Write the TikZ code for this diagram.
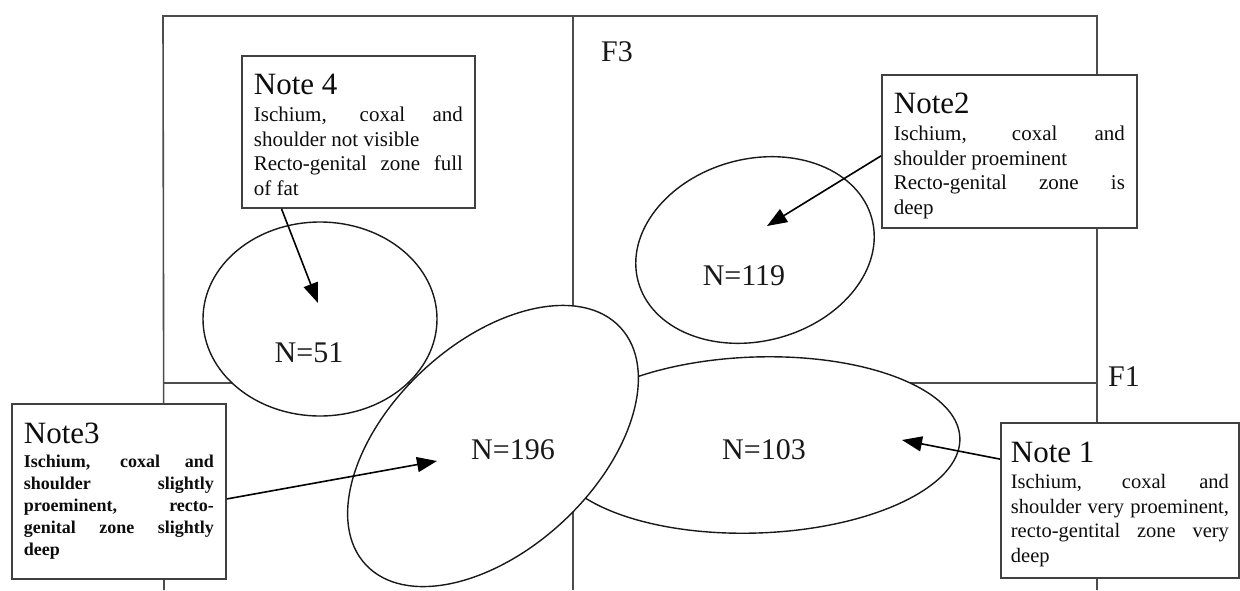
\documentclass[tikz,border=0pt]{standalone}
\usepackage{fontspec}
\setmainfont{Liberation Serif}
\usetikzlibrary{arrows.meta,shapes.geometric}

\tikzset{
  cluster/.style={ellipse, draw=black!90, line width=1.4pt, fill=white, inner sep=0pt},
  count/.style={font=\fontsize{30}{36}\selectfont, text=black!90},
  notebox/.style={draw=black!75, line width=1.8pt, fill=white, anchor=north west,
    inner xsep=12pt, inner ysep=0pt, align=justify, text=black!95,
    font=\fontsize{21}{24.5}\selectfont},
  axisline/.style={draw=black!70, line width=1.6pt},
  pointer/.style={-{Triangle[length=20pt,width=15pt]}, line width=1.6pt},
}
\newcommand{\notehead}[1]{{\fontsize{31}{31}\selectfont\rule{0pt}{39pt}#1\par}\vspace{2.5pt}}
\newcommand{\noteend}[1]{\rule[-#1]{0pt}{#1}}
\tolerance=10000 \hbadness=10000

\begin{document}
\begin{tikzpicture}[x=1pt,y=-1pt]
  \useasboundingbox (0,0) rectangle (1240,590);

  % frame and axes
  \coordinate (tl) at (163,16);
  \coordinate (tr) at (1097,16);
  \coordinate (bl) at (164,590);
  \coordinate (br) at (1097,590);
  \coordinate (f3top) at (573,16);
  \coordinate (f3bot) at (573,590);
  \coordinate (f1left) at (164,383);
  \coordinate (f1right) at (1097,383);

  \draw[axisline] (bl) -- (tl) -- (tr) -- (br);
  \draw[axisline] (f3top) -- (f3bot);
  \draw[axisline] (f1left) -- (f1right);

  \node[count] (F3) at (617,52) {F3};
  \node[count] (F1) at (1124,377) {F1};

  % groups
  \node[cluster, minimum width=242pt, minimum height=182pt, rotate=15] (e119) at (755,250) {};
  \node[cluster, minimum width=408pt, minimum height=176pt, rotate=2] (e103) at (756,445) {};
  \node[cluster, minimum width=348pt, minimum height=206pt, rotate=43] (e196) at (493,446) {};
  \node[cluster, minimum width=234pt, minimum height=194pt] (e51) at (320,319) {};

  \node[count] (n51) at (309,353) {N=51};
  \node[count] (n119) at (744,276) {N=119};
  \node[count] (n196) at (513,450) {N=196};
  \node[count] (n103) at (764,450) {N=103};

  % notes
  \node[notebox, text width=209pt] (note4) at (241,55) {%
    \notehead{Note 4}
    Ischium, coxal and\linebreak shoulder not visible\par
    Recto-genital zone full\linebreak of fat\noteend{12.5pt}};

  \node[notebox, text width=231pt] (note2) at (881,74) {%
    \notehead{Note2}
    Ischium, coxal and\linebreak shoulder proeminent\par
    Recto-genital zone is\linebreak deep\noteend{13.5pt}};

  \node[notebox, text width=190pt, font=\bfseries\fontsize{18}{22}\selectfont] (note3) at (11,403) {%
    {\mdseries\fontsize{31}{31}\selectfont\rule{0pt}{40pt}Note3\par}\vspace{2pt}
    Ischium, coxal and\linebreak shoulder slightly\linebreak proeminent, recto-\linebreak
    genital zone slightly\linebreak deep\noteend{23pt}};

  \node[notebox, text width=218pt, inner xsep=10pt, font=\fontsize{20.5}{24.5}\selectfont] (note1) at (1000,422) {%
    {\fontsize{31}{31}\selectfont\rule{0pt}{40pt}Note 1\par}\vspace{1.5pt}
    Ischium, coxal and\linebreak shoulder very proeminent,\linebreak
    recto-gentital zone very\linebreak deep\noteend{15.5pt}};

  \coordinate (tip4) at (318,303);
  \coordinate (tip2) at (767,226);
  \coordinate (tip3) at (437,461);
  \coordinate (tip1) at (902,440);

  \draw[pointer] (note4.225) -- (tip4);
  \draw[pointer] (note2.182) -- (tip2);
  \draw[pointer] (note3.-4) -- (tip3);
  \draw[pointer] (note1.161) -- (tip1);
\end{tikzpicture}
\end{document}
